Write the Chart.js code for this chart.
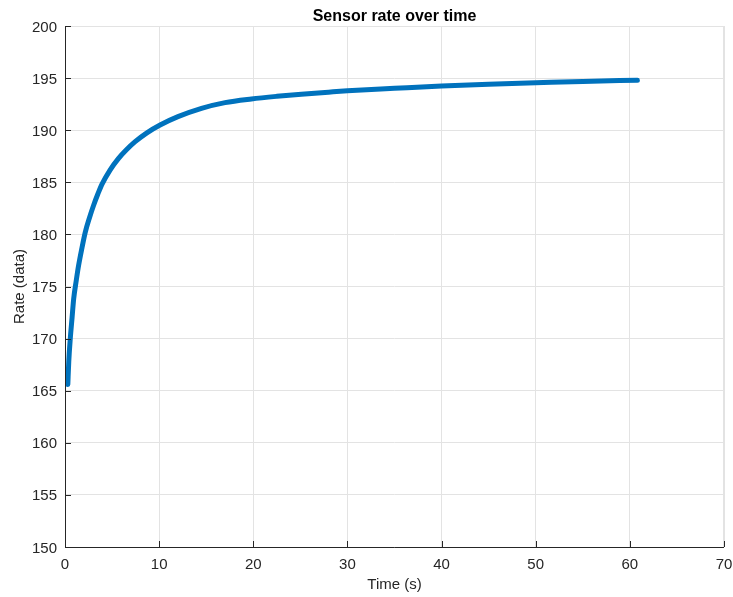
<!DOCTYPE html>
<html lang="en">
<head>
  <meta charset="UTF-8" />
  <title>Sensor rate over time</title>
  <script src="https://cdn.jsdelivr.net/npm/chart.js"></script>
  <style>
    body {
      margin: 0;
      background: #fff;
    }
    #rateChart {
      display: block;
    }
  </style>
</head>
<body>
  <canvas id="rateChart" width="733" height="597"></canvas>

  <script>
    // values
    const timeSec = [0.3, 0.4, 0.56, 0.75, 0.92, 1.2, 1.44, 1.8, 2.15, 2.6, 3.04, 3.5, 3.92, 4.8, 5.69, 6.5, 7.45, 8.7, 10.1, 12, 14.5, 17, 19.8, 22.5, 25.1, 28, 30, 35, 40, 45, 50, 55, 60.8];
    const rateData = [165.6, 167.8, 170.0, 172.0, 173.8, 175.6, 177.0, 178.7, 180.2, 181.6, 182.8, 183.9, 184.8, 186.2, 187.3, 188.1, 188.9, 189.75, 190.5, 191.3, 192.1, 192.65, 193.0, 193.25, 193.45, 193.65, 193.78, 194.02, 194.25, 194.42, 194.55, 194.68, 194.8];

    const xTicks = [0, 10, 20, 30, 40, 50, 60, 70];
    const yTicks = [150, 155, 160, 165, 170, 175, 180, 185, 190, 195, 200];

    const titleText = 'Sensor rate over time';
    const xTitle = 'Time (s)';
    const yTitle = 'Rate (data)';

    const axisColor = '#262626';
    const gridColor = '#e3e3e3';
    const fontFamily = '"Liberation Sans", Arial, sans-serif';

    // MATLAB-style axes: light box, dark left/bottom lines, inward ticks, labels
    const matlabAxes = {
      id: 'matlabAxes',
      afterDraw(chart) {
        const { ctx, chartArea: a, scales } = chart;
        ctx.save();
        ctx.lineWidth = 1;
        ctx.strokeStyle = gridColor;
        ctx.beginPath();
        ctx.moveTo(a.left, a.top + 0.5);
        ctx.lineTo(a.right - 0.5, a.top + 0.5);
        ctx.lineTo(a.right - 0.5, a.bottom);
        ctx.stroke();

        ctx.strokeStyle = axisColor;
        ctx.beginPath();
        ctx.moveTo(a.left + 0.5, a.top);
        ctx.lineTo(a.left + 0.5, a.bottom + 0.5);
        ctx.lineTo(a.right, a.bottom + 0.5);
        for (const v of xTicks) {
          const px = Math.round(scales.x.getPixelForValue(v)) + 0.5;
          ctx.moveTo(px, a.bottom);
          ctx.lineTo(px, a.bottom - 6);
        }
        for (const v of yTicks) {
          const py = Math.round(scales.y.getPixelForValue(v)) + 0.5;
          ctx.moveTo(a.left, py);
          ctx.lineTo(a.left + 6, py);
        }
        ctx.stroke();

        // tick labels
        ctx.fillStyle = axisColor;
        ctx.font = '15px ' + fontFamily;
        ctx.textBaseline = 'alphabetic';
        ctx.textAlign = 'center';
        for (const v of xTicks) {
          ctx.fillText(String(v), scales.x.getPixelForValue(v), a.bottom + 22);
        }
        ctx.textAlign = 'right';
        for (const v of yTicks) {
          ctx.fillText(String(v), a.left - 8, scales.y.getPixelForValue(v) + 5.5);
        }

        // axis titles
        ctx.textAlign = 'center';
        ctx.fillText(xTitle, (a.left + a.right) / 2, a.bottom + 42);
        ctx.save();
        ctx.translate(24, (a.top + a.bottom) / 2);
        ctx.rotate(-Math.PI / 2);
        ctx.fillText(yTitle, 0, 0);
        ctx.restore();

        // chart title
        ctx.fillStyle = '#000';
        ctx.font = 'bold 16px ' + fontFamily;
        ctx.fillText(titleText, (a.left + a.right) / 2, 21);
        ctx.restore();
      }
    };

    function renderChart() {
      const ctx = document.getElementById('rateChart').getContext('2d');
      new Chart(ctx, {
        type: 'line',
        data: {
          datasets: [{
            data: timeSec.map((t, i) => ({ x: t, y: rateData[i] })),
            borderColor: '#0072BD',
            borderWidth: 5,
            borderCapStyle: 'round',
            borderJoinStyle: 'round',
            pointRadius: 0,
            fill: false,
            cubicInterpolationMode: 'monotone'
          }]
        },
        options: {
          responsive: false,
          animation: false,
          layout: { padding: { left: 65, right: 9, top: 26, bottom: 50 } },
          plugins: {
            legend: { display: false },
            tooltip: { enabled: false },
            title: { display: false }
          },
          scales: {
            x: {
              type: 'linear',
              min: 0,
              max: 70,
              afterBuildTicks: (s) => { s.ticks = xTicks.map(v => ({ value: v })); },
              ticks: { display: false },
              grid: { color: gridColor, drawTicks: false, tickLength: 0 },
              border: { display: false }
            },
            y: {
              min: 150,
              max: 200,
              afterBuildTicks: (s) => { s.ticks = yTicks.map(v => ({ value: v })); },
              ticks: { display: false },
              grid: { color: gridColor, drawTicks: false, tickLength: 0 },
              border: { display: false }
            }
          }
        },
        plugins: [matlabAxes]
      });
    }

    window.onload = renderChart;
  </script>
</body>
</html>
